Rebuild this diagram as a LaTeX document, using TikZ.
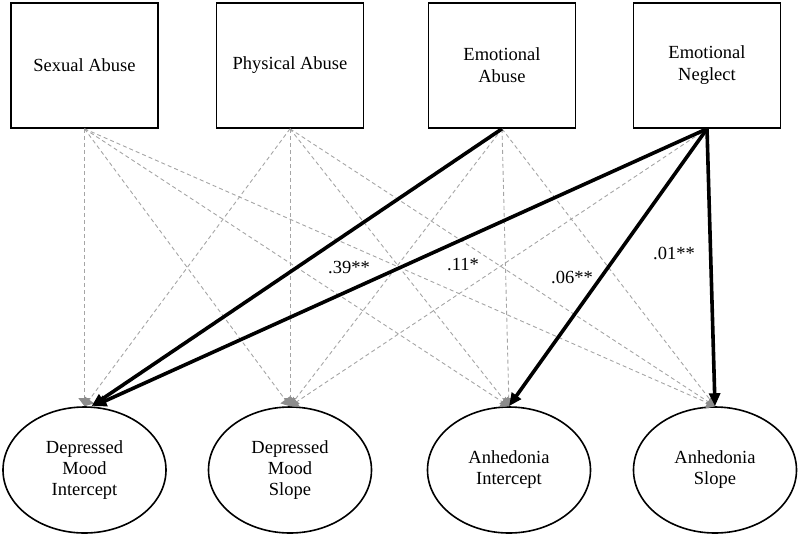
\documentclass[tikz,border=0pt]{standalone}
\usepackage{fontspec}
\setmainfont{Liberation Serif}
\usetikzlibrary{arrows.meta,shapes.geometric}
\definecolor{dgray}{RGB}{165,165,165}
\definecolor{hgray}{RGB}{140,140,140}
\begin{document}
\begin{tikzpicture}[x=1pt,y=-1pt,
  box/.style={draw,line width=1.6pt,minimum width=147pt,minimum height=125pt,align=center,inner sep=0pt,font=\fontsize{18.5}{22}\selectfont},
  lat/.style={draw,ellipse,line width=1.6pt,minimum width=163pt,minimum height=126pt,align=center,inner sep=0pt,font=\fontsize{18.5}{21}\selectfont},
  ns/.style={draw=dgray,dash pattern=on 4pt off 3pt,line width=0.9pt,-{Triangle[length=8pt,width=12pt,fill=hgray,color=hgray]}},
  sig/.style={draw=black,line width=3.6pt,-{Triangle[length=13pt,width=11pt]}},
  lab/.style={inner sep=0pt,font=\fontsize{18.5}{21}\selectfont}]
\useasboundingbox (0,0) rectangle (800,536);
\node[box] (SA) at (84.5,65.5) {\raisebox{-2pt}{Sexual Abuse}};
\node[box] (PA) at (290,65.5) {\raisebox{-2pt}{Physical Abuse}};
\node[box] (EA) at (502,65.5) {\raisebox{-2pt}{Emotional}\\\raisebox{-2pt}{Abuse}};
\node[box] (EN) at (707,65.5) {\raisebox{-2pt}{Emotional}\\\raisebox{-2pt}{Neglect}};
\node[lat] (DMI) at (84.5,470) {Depressed\\Mood\\Intercept};
\node[lat] (DMS) at (290,470) {Depressed\\Mood\\Slope};
\node[lat] (AI) at (509,470) {Anhedonia\\Intercept};
\node[lat] (AS) at (715,470) {Anhedonia\\Slope};
% non-significant paths
\foreach \s in {SA,PA}{
  \foreach \t in {DMI,DMS,AI,AS}{
    \draw[ns] (\s.south) -- (\t.north);
  }
}
\draw[ns] (EA.south) -- (DMS.north);
\draw[ns] (EA.south) -- (AI.north);
\draw[ns] (EA.south) -- (AS.north);
\draw[ns] (EN.south) -- (DMS.north);
% significant paths
\draw[sig] (EA.south) -- ([xshift=7pt]DMI.north);
\draw[sig] (EN.south) -- ([xshift=9pt]DMI.north);
\draw[sig] (EN.south) -- (AI.north);
\draw[sig] (EN.south) -- (AS.north);
\node[lab] (l1) at (349,268) {.39**};
\node[lab] (l2) at (463,265) {.11*};
\node[lab] (l3) at (572,277) {.06**};
\node[lab] (l4) at (674,253) {.01**};
\end{tikzpicture}
\end{document}
